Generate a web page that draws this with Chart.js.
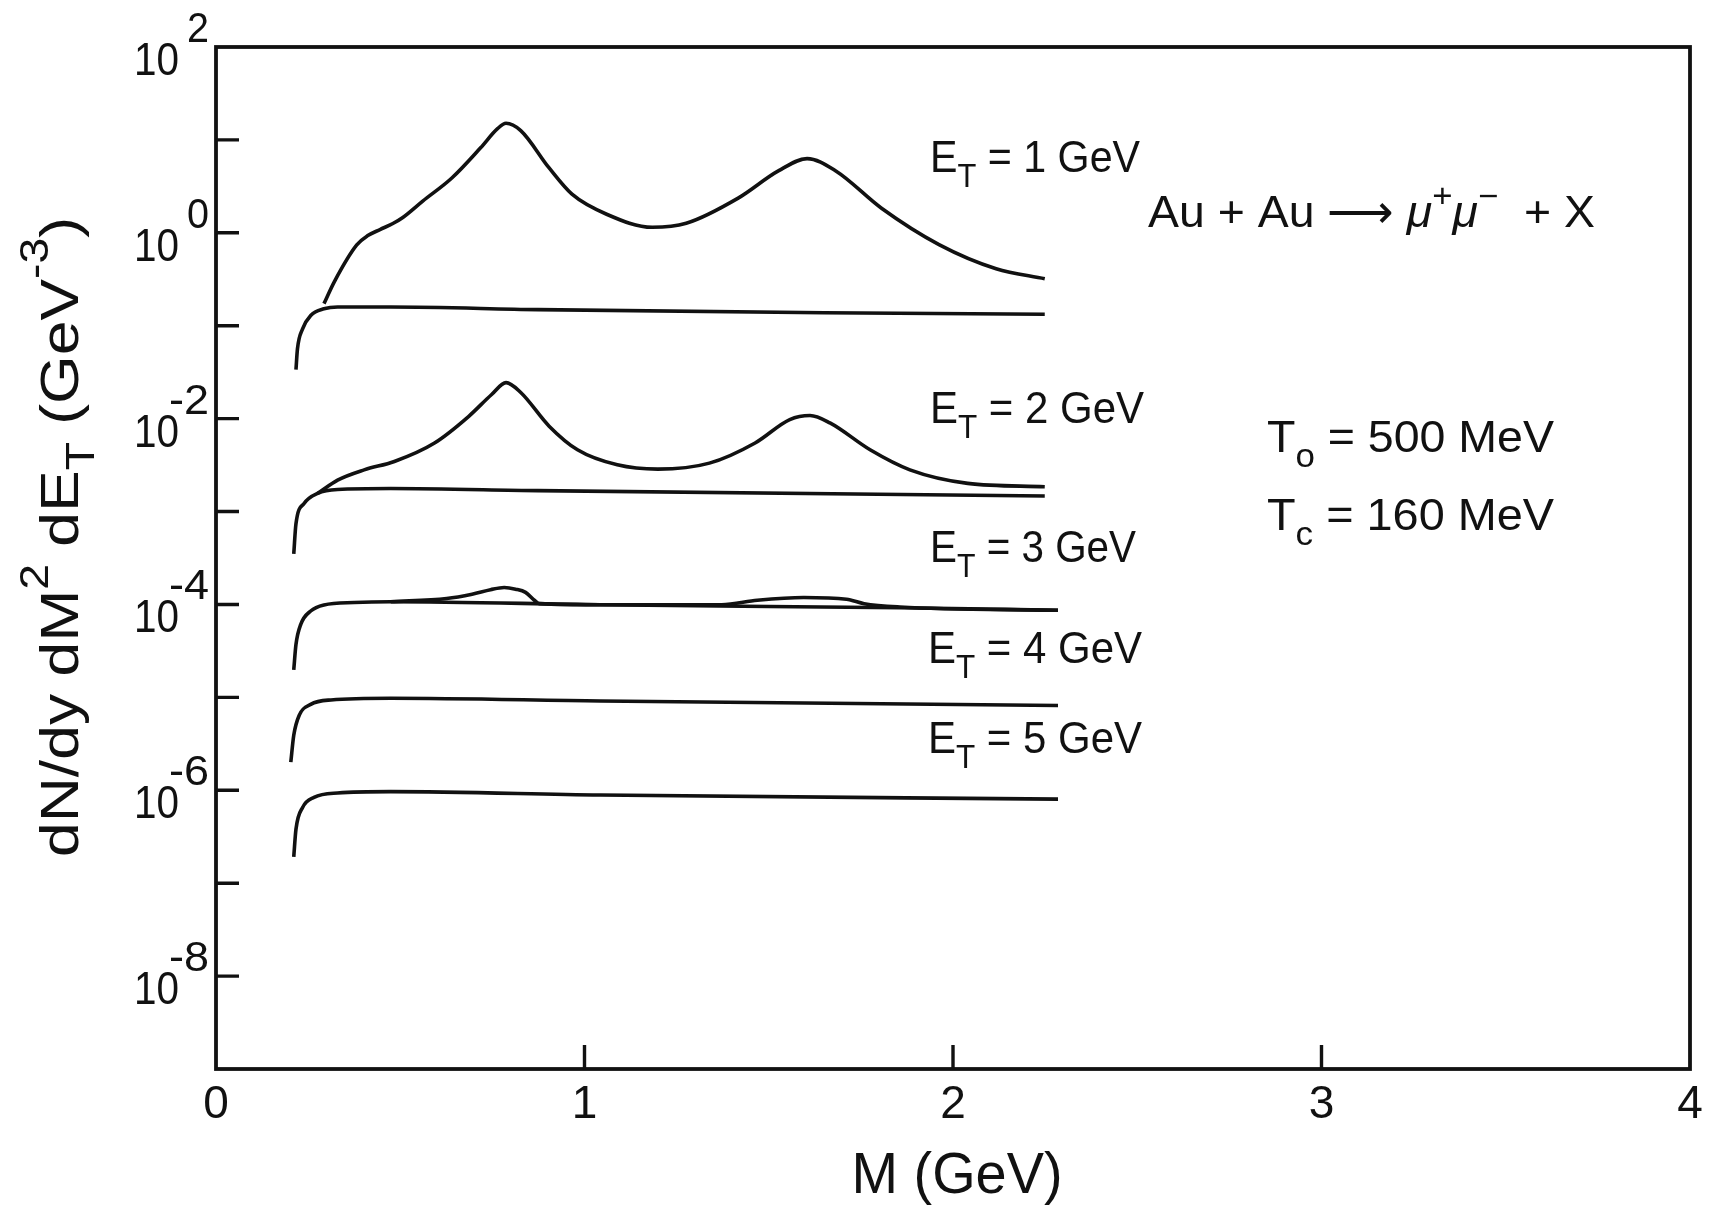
<!DOCTYPE html>
<html>
<head>
<meta charset="utf-8">
<title>Au+Au dimuon spectra</title>
<script src="https://cdn.jsdelivr.net/npm/chart.js@4.4.1/dist/chart.umd.min.js"></script>
<style>
  html, body { margin: 0; padding: 0; background: #fff; }
  #wrap { width: 1716px; height: 1205px; }
</style>
</head>
<body>
<div id="wrap"><canvas id="dimuonChart" width="1716" height="1205"></canvas></div>
<script>
// invariant mass M (GeV) and dN/dy dM^2 dE_T (GeV^-3)

// E_T = 1 GeV
const et1ContM = [0.217, 0.221, 0.235, 0.257, 0.293, 0.330, 0.474, 0.873, 1.650, 2.249];
const et1ContY = [3.36e-2, 5.61e-2, 9.25e-2, 1.29e-1, 1.52e-1, 1.59e-1, 1.59e-1, 1.49e-1, 1.38e-1, 1.33e-1];
const et1TotM = [0.293, 0.321, 0.382, 0.412, 0.445, 0.480, 0.507, 0.561, 0.640, 0.718, 0.764, 0.787, 0.827, 0.904,
                 0.966, 1.060, 1.184, 1.276, 1.417, 1.526, 1.604, 1.682, 1.806, 1.962, 2.117, 2.249];
const et1TotY = [0.173, 0.297, 0.741, 0.933, 1.084, 1.259, 1.462, 2.193, 3.890, 8.222, 13.21, 15.10, 12.59, 4.989,
                 2.606, 1.585, 1.146, 1.265, 2.360, 4.634, 6.295, 4.634, 1.841, 0.748, 0.411, 0.320];

// E_T = 2 GeV
const et2ContM = [0.211, 0.217, 0.239, 0.276, 0.330, 0.474, 0.873, 2.249];
const et2ContY = [3.50e-4, 7.41e-4, 1.22e-3, 1.57e-3, 1.73e-3, 1.77e-3, 1.68e-3, 1.47e-3];
const et2TotM = [0.276, 0.330, 0.402, 0.484, 0.593, 0.686, 0.748, 0.787, 0.827, 0.904, 0.981, 1.089, 1.199,
                 1.339, 1.463, 1.557, 1.612, 1.666, 1.775, 1.883, 2.040, 2.249];
const et2TotY = [1.57e-3, 2.18e-3, 2.81e-3, 3.46e-3, 5.47e-3, 1.06e-2, 1.82e-2, 2.44e-2, 1.91e-2, 8.30e-3,
                 4.62e-3, 3.18e-3, 2.86e-3, 3.32e-3, 5.47e-3, 9.77e-3, 1.08e-2, 9.00e-3, 4.62e-3, 2.81e-3,
                 2.01e-3, 1.85e-3];

// E_T = 3 GeV
const et3ContM = [0.211, 0.217, 0.230, 0.257, 0.293, 0.375, 0.474, 1.043, 1.856, 2.285];
const et3ContY = [1.98e-5, 3.70e-5, 6.10e-5, 8.51e-5, 9.89e-5, 1.05e-4, 1.07e-4, 9.93e-5, 9.20e-5, 8.65e-5];
const et3TotM = [0.474, 0.626, 0.695, 0.745, 0.782, 0.813, 0.840, 0.864, 0.878, 1.043, 1.372, 1.469, 1.595,
                 1.711, 1.759, 1.856, 2.285];
const et3TotY = [1.07e-4, 1.16e-4, 1.29e-4, 1.44e-4, 1.52e-4, 1.46e-4, 1.35e-4, 1.11e-4, 1.02e-4, 9.93e-5,
                 9.93e-5, 1.11e-4, 1.19e-4, 1.14e-4, 1.02e-4, 9.40e-5, 8.65e-5];

// E_T = 4 GeV and 5 GeV (resonances not visible)
const et4M = [0.203, 0.211, 0.226, 0.257, 0.312, 0.474, 1.043, 2.285];
const et4Y = [2.01e-6, 3.91e-6, 6.44e-6, 8.41e-6, 9.38e-6, 9.77e-6, 9.14e-6, 8.18e-6];
const et5M = [0.211, 0.217, 0.235, 0.266, 0.330, 0.474, 1.043, 2.285];
const et5Y = [1.92e-7, 3.80e-7, 6.52e-7, 8.38e-7, 9.35e-7, 9.66e-7, 8.89e-7, 8.04e-7];

// axis ticks
const xTickValues = [0, 1, 2, 3, 4];
const yLabelValues = [1e2, 1e0, 1e-2, 1e-4, 1e-6, 1e-8];
const yLabelExponents = ['2', '0', '-2', '-4', '-6', '-8'];
const yTickValues = [1e1, 1e0, 1e-1, 1e-2, 1e-3, 1e-4, 1e-5, 1e-6, 1e-7, 1e-8];

const NARROW = '"Liberation Sans Narrow", "Liberation Sans", Arial, sans-serif';
const SANS = '"Liberation Sans", Arial, sans-serif';
const INK = '#111';

function pts(ms, ys) {
    return ms.map((m, i) => ({ x: m, y: ys[i] }));
}

// text with super/subscripts, optionally squeezed to a given width
function drawRich(ctx, segs, x, y, o) {
    const small = o.small || o.size * 0.72;
    const fontOf = s => (s.it ? 'italic ' : '') + (s.sup || s.sub ? small : o.size) + 'px ' + (o.family || NARROW);
    let total = 0;
    segs.forEach(s => { ctx.font = fontOf(s); total += ctx.measureText(s.t).width; });
    const sx = o.width ? o.width / total : 1;
    let x0 = x;
    if (o.align === 'center') x0 = x - total * sx / 2;
    if (o.align === 'right') x0 = x - total * sx;
    ctx.save();
    ctx.translate(x0, y);
    ctx.scale(sx, 1);
    ctx.fillStyle = INK;
    ctx.textAlign = 'left';
    ctx.textBaseline = 'alphabetic';
    let cx = 0;
    segs.forEach(s => {
        ctx.font = fontOf(s);
        const dy = s.sup ? -(o.raise || o.size * 0.42) : s.sub ? (o.drop || o.size * 0.3) : 0;
        ctx.fillText(s.t, cx, dy);
        cx += ctx.measureText(s.t).width;
    });
    ctx.restore();
}

const annotations = [
    { segs: [{ t: 'E' }, { t: 'T', sub: true }, { t: ' = 1 GeV' }], x: 930, y: 172, width: 210 },
    { segs: [{ t: 'E' }, { t: 'T', sub: true }, { t: ' = 2 GeV' }], x: 930, y: 423, width: 214 },
    { segs: [{ t: 'E' }, { t: 'T', sub: true }, { t: ' = 3 GeV' }], x: 930, y: 562, width: 206 },
    { segs: [{ t: 'E' }, { t: 'T', sub: true }, { t: ' = 4 GeV' }], x: 928, y: 663, width: 214 },
    { segs: [{ t: 'E' }, { t: 'T', sub: true }, { t: ' = 5 GeV' }], x: 928, y: 753, width: 214 },
    { segs: [{ t: 'T' }, { t: 'o', sub: true }, { t: ' = 500 MeV' }], x: 1267, y: 452, width: 287 },
    { segs: [{ t: 'T' }, { t: 'c', sub: true }, { t: ' = 160 MeV' }], x: 1267, y: 530, width: 287 },
    { segs: [{ t: 'Au + Au ' }, { t: '\u27F6' }, { t: ' ' }, { t: '\u03BC', it: true }, { t: '+', sup: true },
             { t: '\u03BC', it: true }, { t: '\u2212', sup: true }, { t: '  + X' }], x: 1148, y: 227, width: 447 }
];

const framePlugin = {
    id: 'frame',
    afterDatasetsDraw(chart) {
        const { ctx, chartArea: a, scales } = chart;
        const xs = scales.x, ys = scales.y;
        ctx.save();
        ctx.strokeStyle = INK;
        ctx.lineCap = 'butt';

        // box
        ctx.lineWidth = 3.8;
        ctx.strokeRect(a.left, a.top, a.right - a.left, a.bottom - a.top);

        // inward ticks
        ctx.lineWidth = 3.4;
        ctx.beginPath();
        yTickValues.forEach(v => {
            const py = ys.getPixelForValue(v);
            ctx.moveTo(a.left, py);
            ctx.lineTo(a.left + 23, py);
        });
        xTickValues.slice(1, -1).forEach(v => {
            const px = xs.getPixelForValue(v);
            ctx.moveTo(px, a.bottom);
            ctx.lineTo(px, a.bottom - 24);
        });
        ctx.stroke();

        // y tick labels: 10 with exponent
        yLabelValues.forEach((v, i) => {
            const py = ys.getPixelForValue(v);
            drawRich(ctx, [{ t: '10' }], a.left - 37, py + 28, { size: 46, width: 45, align: 'right' });
            drawRich(ctx, [{ t: yLabelExponents[i] }], a.left - 7, py - 5,
                     { size: 42, width: yLabelExponents[i].length > 1 ? 40 : 22, align: 'right' });
        });

        // x tick labels
        ctx.fillStyle = INK;
        ctx.textAlign = 'center';
        ctx.textBaseline = 'alphabetic';
        ctx.font = '46px ' + NARROW;
        xTickValues.forEach(v => {
            ctx.fillText(String(v), xs.getPixelForValue(v), a.bottom + 49);
        });

        // x title
        drawRich(ctx, [{ t: 'M (GeV)' }], 957, 1193, { size: 58, width: 211, align: 'center' });

        // y title, rotated
        ctx.save();
        ctx.translate(78, 537);
        ctx.rotate(-Math.PI / 2);
        drawRich(ctx, [{ t: 'dN/dy dM' }, { t: '2', sup: true }, { t: ' dE' }, { t: 'T', sub: true },
                       { t: ' (GeV' }, { t: '-3', sup: true }, { t: ')' }],
                 0, 0, { size: 54, small: 40, raise: 30, drop: 16, width: 640, align: 'center', family: SANS });
        ctx.restore();

        // annotations
        annotations.forEach(n => {
            drawRich(ctx, n.segs, n.x, n.y, { size: 44, small: 33, drop: 15, raise: 20, width: n.width });
        });
        ctx.restore();
    }
};

const line = (data) => ({
    data: data,
    borderColor: INK,
    borderWidth: 3.6,
    pointRadius: 0,
    fill: false,
    cubicInterpolationMode: 'monotone'
});

new Chart(document.getElementById('dimuonChart'), {
    type: 'line',
    data: {
        datasets: [
            line(pts(et1TotM, et1TotY)),
            line(pts(et1ContM, et1ContY)),
            line(pts(et2TotM, et2TotY)),
            line(pts(et2ContM, et2ContY)),
            line(pts(et3TotM, et3TotY)),
            line(pts(et3ContM, et3ContY)),
            line(pts(et4M, et4Y)),
            line(pts(et5M, et5Y))
        ]
    },
    options: {
        responsive: false,
        animation: false,
        devicePixelRatio: 1,
        layout: { padding: { left: 216, top: 47, right: 26, bottom: 136 } },
        plugins: {
            legend: { display: false },
            tooltip: { enabled: false }
        },
        scales: {
            x: { type: 'linear', min: 0, max: 4, display: false },
            y: { type: 'logarithmic', min: 1e-9, max: 1e2, display: false }
        }
    },
    plugins: [framePlugin]
});
</script>
</body>
</html>
